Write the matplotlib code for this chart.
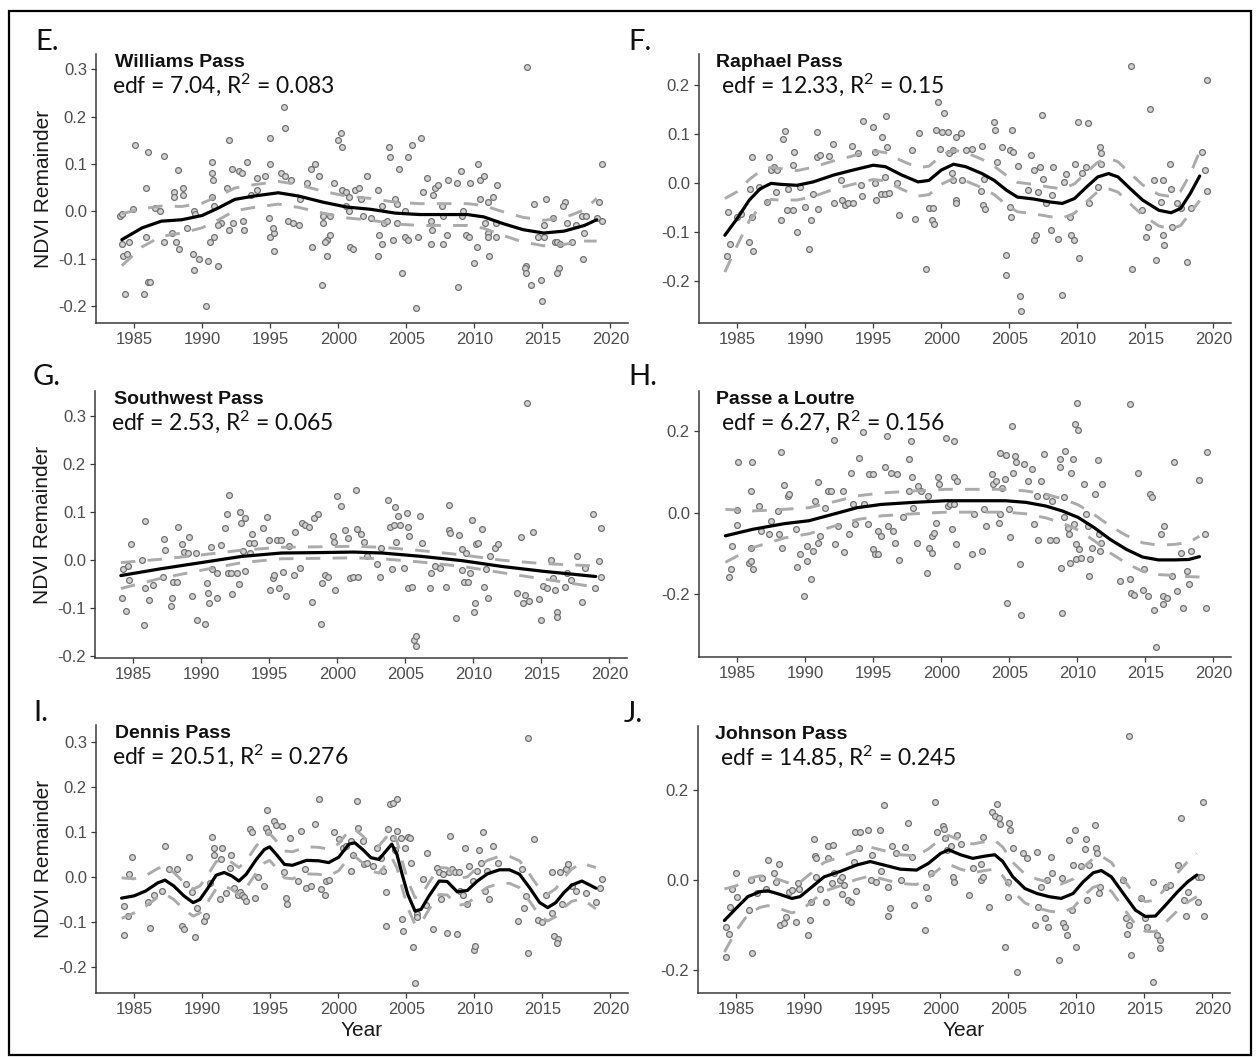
import numpy as np
import matplotlib
matplotlib.use("Agg")
import matplotlib.pyplot as plt
from matplotlib.patches import Rectangle

plt.rcParams['axes.unicode_minus'] = False
plt.rcParams['mathtext.fontset'] = 'custom'
plt.rcParams['mathtext.rm'] = 'Lato'
plt.rcParams['mathtext.it'] = 'Lato:italic'
plt.rcParams['mathtext.bf'] = 'Lato:bold'

# ---------------- data ----------------
E_pts = [(1984.0,-0.010),(1984.1,-0.005),(1984.1,-0.070),(1984.2,-0.095),(1984.3,-0.175),(1984.6,-0.065),(1984.5,-0.090),
(1985.1,0.140),(1984.9,0.005),(1986.0,0.125),(1985.9,0.050),(1985.7,-0.175),(1986.0,-0.150),(1986.2,-0.150),(1986.5,0.007),(1986.9,0.000),(1985.9,-0.055),(1987.2,0.116),(1987.2,-0.065),
(1988.2,0.088),(1987.9,0.040),(1987.9,0.030),(1987.8,-0.045),(1988.1,-0.065),(1988.3,-0.080),(1988.6,0.050),(1988.6,0.035),
(1989.3,-0.090),(1989.4,-0.125),(1989.4,0.000),(1988.9,-0.035),(1989.8,-0.100),(1990.3,-0.200),(1990.4,-0.105),(1990.7,0.105),(1990.7,0.080),(1990.8,0.065),(1989.5,-0.005),
(1990.7,0.030),(1990.6,-0.065),(1990.9,-0.055),(1991.2,-0.115),(1990.9,0.010),(1991.8,0.050),(1992.0,-0.040),(1991.4,-0.025),(1991.2,-0.030),
(1992.0,0.150),(1992.2,0.090),(1992.7,0.085),(1992.3,-0.025),(1993.1,-0.040),(1993.0,-0.020),
(1993.3,0.105),(1992.9,0.080),(1993.6,0.035),(1994.0,0.045),
(1994.6,0.075),(1994.0,0.070),(1995.0,0.155),(1995.0,0.100),(1994.9,-0.015),(1995.0,-0.055),(1995.3,-0.045),
(1996.0,0.220),(1996.1,0.175),(1995.8,0.080),(1996.1,0.075),(1995.3,-0.085),(1995.2,-0.035),
(1996.5,0.065),(1996.3,-0.020),(1996.7,-0.025),(1997.1,-0.030),(1997.2,0.025),
(1998.3,0.100),(1998.0,0.090),(1998.6,0.075),(1998.1,-0.075),(1997.7,0.060),
(1998.9,-0.010),(1998.9,-0.025),(1999.2,-0.060),(1999.0,-0.065),(1998.8,-0.155),(1999.2,-0.095),(1999.4,-0.050),
(1999.7,0.060),(1999.4,-0.010),(2000.3,0.045),
(2000.2,0.165),(2000.0,0.150),(2000.3,0.135),(2000.6,0.040),(2000.8,0.030),(2000.6,0.010),(2000.8,0.000),
(2001.2,0.045),(2001.5,0.050),(2000.9,-0.075),(2001.1,-0.080),
(2002.1,0.075),(2001.7,0.025),(2001.8,-0.010),(2002.4,-0.015),
(2002.9,0.045),(2003.0,-0.050),(2002.9,-0.095),(2003.2,-0.070),(2003.4,-0.025),(2003.2,0.010),
(2003.7,0.135),(2003.8,0.115),(2004.2,0.025),(2004.3,0.015),(2004.3,-0.025),(2004.0,-0.060),(2003.6,-0.020),
(2004.5,0.090),(2004.7,-0.130),(2004.9,-0.055),(2005.1,-0.060),(2005.1,0.115),(2004.9,0.000),
(2005.4,0.140),(2006.1,0.155),(2005.7,-0.205),(2005.9,-0.055),(2006.2,0.040),
(2006.5,0.070),(2006.8,-0.020),(2006.8,-0.070),(2006.9,-0.040),(2007.1,0.050),(2007.0,0.035),
(2007.3,0.055),(2007.7,-0.070),(2007.6,0.010),(2007.7,-0.010),(2008.1,0.065),
(2008.0,-0.050),(2008.7,0.060),(2008.8,-0.160),(2009.0,0.085),(2009.1,-0.010),(2009.2,0.000),
(2009.7,0.060),(2009.4,-0.050),(2009.6,-0.055),(2010.3,0.100),(2010.0,-0.110),(2010.2,-0.075),(2010.4,0.065),(2010.4,0.025),
(2010.7,0.075),(2011.0,0.020),(2010.8,-0.025),(2011.0,-0.045),(2011.0,-0.055),(2011.1,-0.095),(2011.6,-0.025),
(2011.7,0.055),(2011.4,0.030),(2011.6,-0.055),
(2013.8,-0.115),(2013.7,-0.120),(2013.8,-0.130),(2014.2,-0.155),(2013.9,0.305),
(2014.4,0.015),(2014.7,-0.055),(2014.9,-0.145),(2015.0,-0.190),
(2015.3,0.025),(2015.1,-0.030),(2015.1,-0.055),(2015.9,-0.065),
(2016.1,-0.065),(2016.3,-0.070),(2016.2,-0.120),(2016.1,-0.130),(2015.8,-0.015),(2016.7,0.020),(2016.5,0.010),
(2016.8,-0.025),(2017.2,-0.065),(2017.5,-0.030),
(2017.9,-0.010),(2018.2,-0.010),(2018.1,-0.045),(2018.0,-0.100),
(2019.4,0.100),(2019.2,0.020),(2019.0,-0.015),(2019.4,-0.020)]
E_fit_year = [1984.1,1985.6,1987.0,1988.5,1990.0,1991.2,1992.4,1993.8,1995.6,1997.1,1998.9,2000.6,2002.4,2004.2,2006.0,2007.7,2009.5,2010.7,2012.1,2013.6,2015.1,2016.6,2018.1,2019.0]
E_fit = [-0.060,-0.035,-0.021,-0.018,-0.009,0.007,0.025,0.032,0.039,0.032,0.019,0.009,0.004,-0.004,-0.007,-0.007,-0.007,-0.012,-0.026,-0.039,-0.046,-0.042,-0.030,-0.018]
E_se = [0.055,0.040,0.032,0.028,0.026,0.025,0.024,0.024,0.024,0.024,0.023,0.023,0.023,0.023,0.023,0.023,0.023,0.024,0.025,0.026,0.027,0.028,0.033,0.045]

F_pts = [(1984.3,-0.060),(1984.5,-0.125),(1984.26,-0.150),(1985.0,-0.070),(1985.27,-0.063),(1985.86,-0.120),(1986.15,-0.140),(1986.1,0.053),(1985.94,-0.012),(1986.6,-0.008),(1986.1,-0.070),
(1987.33,0.053),(1987.18,-0.040),(1987.48,0.026),(1987.72,0.033),(1987.86,-0.018),(1988.2,-0.075),(1987.92,0.026),
(1988.37,0.090),(1988.5,0.106),(1988.75,-0.012),(1988.66,-0.056),(1989.1,-0.056),(1989.1,0.036),(1989.2,0.063),(1989.4,-0.101),(1989.64,-0.008),
(1990.0,-0.049),(1990.28,-0.134),(1990.43,-0.075),(1990.58,-0.022),(1990.88,0.103),(1990.96,-0.054),(1990.88,0.053),(1991.08,0.056),
(1991.76,0.054),(1992.06,0.079),(1992.15,-0.042),(1992.65,0.005),(1992.7,-0.034),(1992.94,-0.046),(1993.18,-0.041),(1993.53,-0.041),
(1993.47,0.076),(1993.92,0.061),(1994.12,-0.005),(1994.27,0.127),(1994.21,-0.027),(1995.0,0.113),(1995.16,0.063),(1995.24,-0.035),(1995.66,0.094),(1995.6,-0.022),(1995.84,-0.022),(1995.98,0.136),(1996.04,0.073),(1995.16,0.000),(1996.2,-0.020),(1995.84,0.012),(1996.78,0.000),(1996.93,-0.066),
(1997.87,0.067),(1998.1,-0.073),(1998.34,0.101),(1998.85,-0.175),(1999.14,-0.052),(1999.29,-0.076),(1999.44,-0.084),(1999.38,-0.052),
(1999.73,0.165),(2000.18,0.143),(1999.64,0.107),(2000.03,0.104),(2000.47,0.104),(2001.06,0.093),(2001.45,0.101),(1999.9,0.070),(2000.6,0.060),(2000.85,0.067),(2000.83,0.020),(2000.9,0.005),(2001.06,-0.035),(2001.1,-0.042),(2001.5,0.005),(2001.8,0.067),(2002.24,0.070),(2002.98,0.076),(2002.92,-0.016),(2003.07,-0.046),(2003.2,-0.054),(2003.13,0.007),
(2003.87,0.124),(2003.95,0.107),(2004.07,0.043),(2004.46,0.073),(2005.05,0.067),(2005.2,0.107),(2005.28,0.063),(2004.75,-0.148),(2004.8,-0.188),(2005.05,-0.049),(2005.1,-0.069),(2005.64,0.034),(2005.79,-0.231),(2005.87,-0.261),(2006.6,0.056),(2006.37,-0.015),(2007.1,-0.018),(2006.8,-0.117),(2006.97,-0.107),(2007.26,0.033),(2007.4,0.139),(2006.8,0.026),(2007.45,0.007),(2007.7,-0.042),
(2008.24,0.033),(2008.15,-0.025),(2008.1,-0.097),(2008.6,-0.114),(2008.9,-0.228),(2009.03,0.002),(2009.18,0.019),(2009.48,-0.069),(2009.53,-0.107),(2009.77,-0.116),(2009.8,0.039),(2010.07,0.124),(2010.8,0.122),(2010.1,-0.154),(2010.36,0.020),(2010.66,0.033),(2010.9,-0.042),(2011.7,0.073),(2011.78,0.039),(2011.75,0.060),(2011.54,-0.008),
(2014.05,-0.175),(2013.96,0.238),(2014.79,-0.056),(2015.38,0.150),(2015.08,-0.110),(2015.23,-0.090),(2015.67,0.005),(2016.27,0.005),(2015.82,-0.158),(2016.12,-0.039),(2016.3,-0.107),(2016.41,-0.127),(2016.86,-0.012),(2016.8,0.039),(2017.0,-0.090),(2017.3,-0.042),(2017.6,-0.052),(2018.04,-0.161),(2018.33,-0.052),
(2019.16,0.063),(2019.37,0.026),(2019.5,0.210),(2019.5,-0.016)]
F_fit_year = [1984.1,1985.0,1985.9,1986.7,1987.5,1988.2,1989.4,1990.6,1992.1,1993.5,1995.0,1995.9,1997.1,1998.3,1999.1,2000.0,2000.9,2001.8,2003.0,2003.9,2004.8,2005.6,2006.8,2008.0,2008.9,2009.8,2010.7,2011.5,2012.3,2013.0,2013.9,2014.8,2016.0,2016.9,2017.6,2018.3,2019.0]
F_fit = [-0.107,-0.073,-0.035,-0.012,-0.001,-0.003,-0.005,0.002,0.016,0.026,0.036,0.033,0.016,0.002,0.005,0.026,0.038,0.033,0.019,0.005,-0.015,-0.029,-0.033,-0.039,-0.042,-0.032,-0.008,0.012,0.019,0.012,-0.012,-0.035,-0.056,-0.061,-0.052,-0.022,0.014]
F_se = [0.075,0.055,0.042,0.036,0.033,0.032,0.030,0.030,0.029,0.029,0.029,0.029,0.029,0.029,0.029,0.029,0.029,0.029,0.029,0.029,0.030,0.030,0.030,0.030,0.030,0.030,0.030,0.030,0.031,0.031,0.031,0.031,0.032,0.033,0.035,0.040,0.050]

G_pts = [(1984.17,-0.080),(1984.47,-0.106),(1984.23,-0.020),(1984.62,-0.014),(1984.82,0.033),(1984.68,-0.042),(1985.62,0.000),(1985.77,-0.137),(1985.86,-0.059),(1985.9,0.080),(1986.15,-0.083),(1986.45,-0.052),(1987.19,-0.035),(1987.27,0.044),(1987.33,0.021),(1987.78,-0.097),(1987.87,-0.080),(1987.92,-0.047),(1988.22,-0.047),(1988.28,0.068),(1988.57,0.033),(1988.75,0.017),(1989.1,0.047),(1989.05,0.014),(1989.34,-0.076),(1989.64,0.014),(1989.7,-0.125),(1990.29,-0.135),(1990.44,-0.049),(1990.5,-0.070),(1990.58,-0.090),(1990.73,0.026),(1990.82,-0.020),(1991.17,-0.028),(1991.2,-0.080),(1991.47,0.031),(1991.77,0.066),(1991.91,0.095),(1992.06,0.135),(1991.95,-0.028),(1992.21,-0.028),(1992.3,-0.071),(1992.65,-0.028),(1992.8,-0.051),(1992.89,0.100),(1992.95,0.076),(1993.24,0.087),(1993.09,0.019),(1993.2,-0.024),(1993.54,0.035),(1993.6,0.014),(1993.77,0.053),(1993.89,0.035),(1994.57,0.066),(1994.81,0.090),(1995.01,0.042),(1995.05,-0.064),(1995.31,-0.038),(1995.35,-0.031),(1995.55,0.042),(1995.75,-0.059),(1995.9,0.042),(1996.05,-0.026),(1996.26,-0.075),(1996.43,0.028),(1996.79,-0.031),(1996.93,0.057),(1997.23,-0.017),(1997.44,0.076),(1997.67,0.073),(1997.91,0.069),(1998.26,0.087),(1998.56,0.096),(1998.12,-0.089),(1998.8,-0.134),(1998.86,-0.049),(1999.09,-0.031),(1999.3,-0.036),(1999.68,0.049),(1999.74,0.038),(1999.83,-0.064),(1999.98,0.132),(2000.27,0.112),(2000.57,0.063),(2000.78,0.045),(2000.92,-0.038),(2001.16,-0.035),(2001.4,0.146),(2001.45,0.064),(2001.5,-0.035),(2001.75,0.054),(2001.96,0.038),(2002.16,0.007),(2002.93,-0.008),(2003.14,-0.036),(2003.23,0.024),(2003.73,0.125),(2003.88,0.069),(2004.02,-0.019),(2004.17,0.073),(2004.26,0.110),(2004.32,0.037),(2004.47,0.092),(2004.62,0.073),(2004.91,-0.017),(2005.12,0.097),(2005.21,0.069),(2005.25,0.049),(2005.21,-0.059),(2005.5,-0.056),(2005.65,-0.167),(2005.8,-0.179),(2005.8,-0.160),(2006.09,0.092),(2006.24,0.035),(2006.83,-0.059),(2006.89,-0.028),(2007.19,-0.014),(2007.57,-0.017),(2008.01,-0.056),(2008.25,0.115),(2008.25,0.063),(2008.31,0.056),(2008.75,-0.122),(2008.96,0.052),(2009.14,0.022),(2009.2,-0.021),(2009.34,-0.047),(2009.49,0.014),(2009.64,-0.047),(2009.79,-0.028),(2009.93,0.083),(2010.08,-0.108),(2010.14,-0.090),(2010.23,0.033),(2010.38,0.035),(2010.67,0.065),(2010.82,-0.056),(2010.97,-0.019),(2011.12,-0.080),(2011.26,0.007),(2011.62,0.024),(2011.85,0.033),(2013.18,-0.069),(2013.48,0.047),(2013.63,-0.090),(2013.77,-0.073),(2013.92,0.328),(2014.07,-0.087),(2014.36,0.057),(2014.81,-0.082),(2014.96,-0.125),(2015.1,-0.054),(2015.4,-0.059),(2015.69,0.000),(2015.84,-0.038),(2015.99,-0.063),(2016.14,-0.108),(2016.14,-0.120),(2016.73,-0.057),(2016.88,-0.028),(2017.17,-0.042),(2017.61,0.007),(2018.0,-0.088),(2018.2,-0.017),(2018.8,0.096),(2018.94,-0.059),(2019.24,-0.003),(2019.39,0.066),(2019.39,-0.036)]
G_fit_year = [1984.1,1987.0,1990.0,1993.0,1995.9,1998.9,2001.2,2003.3,2006.2,2009.2,2012.1,2015.1,2019.0]
G_fit = [-0.033,-0.019,-0.006,0.007,0.014,0.015,0.016,0.014,0.007,-0.002,-0.014,-0.024,-0.035]
G_se = [0.027,0.020,0.016,0.013,0.012,0.012,0.012,0.012,0.012,0.012,0.013,0.016,0.022]

H_pts = [(1984.38,-0.158),(1984.53,-0.139),(1984.62,-0.082),(1985.03,0.123),(1984.97,-0.031),(1985.0,0.006),(1986.0,0.053),(1986.09,0.123),(1985.86,-0.123),(1986.0,-0.119),(1986.15,-0.139),(1986.02,-0.086),(1986.59,0.016),(1986.74,-0.045),(1987.33,-0.053),(1987.48,-0.020),(1987.98,0.004),(1988.22,0.148),(1988.07,-0.053),(1988.28,-0.086),(1988.45,0.068),(1988.75,0.041),(1988.81,0.045),(1989.34,-0.041),(1989.4,-0.134),(1989.64,-0.102),(1989.93,-0.205),(1990.14,-0.119),(1990.16,-0.082),(1990.43,-0.164),(1990.58,-0.094),(1990.73,0.029),(1990.93,-0.074),(1990.95,0.074),(1991.11,-0.057),(1991.47,0.012),(1991.7,0.053),(1991.91,0.053),(1992.14,0.179),(1992.2,-0.078),(1992.44,-0.033),(1992.79,0.053),(1992.88,-0.096),(1993.24,-0.053),(1993.39,0.098),(1993.53,0.020),(1993.68,-0.029),(1993.98,0.134),(1994.27,0.197),(1994.36,0.020),(1994.65,-0.029),(1994.71,0.094),(1995.0,0.094),(1995.02,-0.090),(1995.16,-0.102),(1995.39,-0.102),(1995.36,-0.045),(1995.54,-0.057),(1995.89,0.111),(1996.04,0.187),(1996.1,-0.033),(1996.34,0.098),(1996.49,-0.045),(1996.63,-0.074),(1996.72,0.094),(1996.93,-0.116),(1997.22,-0.012),(1997.66,0.131),(1997.81,0.176),(1997.83,0.086),(1997.6,0.053),(1997.96,0.012),(1998.2,-0.074),(1998.32,0.066),(1998.55,0.053),(1998.94,-0.149),(1999.05,0.041),(1999.14,-0.086),(1999.29,-0.057),(1999.31,-0.100),(1999.44,-0.049),(1999.59,-0.025),(1999.73,0.086),(1999.82,0.070),(2000.32,0.184),(2000.47,0.016),(2000.62,0.020),(2000.77,-0.041),(2000.91,0.176),(2000.93,0.086),(2000.97,0.020),(2001.06,-0.078),(2001.15,-0.130),(2001.17,0.078),(2002.24,-0.102),(2002.39,-0.004),(2002.98,-0.094),(2003.13,0.008),(2003.28,-0.033),(2003.72,0.094),(2003.81,0.070),(2004.01,0.078),(2004.22,-0.025),(2004.31,-0.004),(2004.46,0.061),(2004.69,0.082),(2004.81,-0.221),(2004.33,0.145),(2004.75,0.142),(2004.99,0.008),(2005.05,-0.061),(2005.2,0.213),(2005.28,0.098),(2005.4,0.139),(2005.49,0.123),(2005.79,-0.125),(2005.87,-0.250),(2006.08,0.119),(2006.38,0.078),(2006.67,0.107),(2006.82,-0.029),(2007.05,0.041),(2007.11,-0.066),(2007.35,0.078),(2007.56,0.143),(2007.7,0.041),(2008.0,-0.066),(2008.15,0.029),(2008.44,-0.066),(2008.74,0.131),(2008.76,0.111),(2008.83,-0.135),(2008.89,-0.246),(2009.03,0.037),(2009.05,-0.012),(2009.12,0.152),(2009.33,-0.037),(2009.42,-0.053),(2009.48,-0.123),(2009.56,0.098),(2009.68,0.131),(2009.77,-0.029),(2009.92,-0.115),(2009.94,-0.078),(2010.01,0.268),(2009.8,0.217),(2010.03,0.202),(2010.13,-0.090),(2010.3,-0.111),(2010.51,0.070),(2010.66,-0.004),(2010.8,-0.033),(2010.89,-0.156),(2010.95,-0.115),(2011.1,-0.086),(2011.31,0.045),(2011.54,0.129),(2011.6,-0.053),(2011.69,-0.094),(2011.84,0.070),(2011.78,-0.074),(2013.17,-0.168),(2013.85,0.266),(2013.91,-0.164),(2013.93,-0.197),(2014.2,-0.201),(2014.5,0.098),(2014.85,-0.189),(2014.94,-0.139),(2015.23,-0.205),(2015.38,0.045),(2015.53,0.037),(2015.62,-0.238),(2015.82,-0.330),(2016.12,-0.053),(2016.27,-0.225),(2016.29,-0.205),(2016.41,-0.033),(2016.56,-0.209),(2017.0,-0.156),(2017.09,0.123),(2017.3,-0.193),(2017.6,-0.098),(2017.74,-0.234),(2018.04,-0.143),(2018.19,-0.176),(2018.33,-0.093),(2018.92,0.080),(2019.37,-0.053),(2019.46,-0.234),(2019.5,0.148)]
H_fit_year = [1984.14,1986.15,1988.5,1990.28,1992.06,1993.83,1995.6,1997.96,2000.32,2002.68,2004.75,2006.23,2007.7,2008.9,2010.07,2011.25,2012.43,2013.6,2014.8,2015.97,2017.15,2018.19,2018.98]
H_fit = [-0.057,-0.041,-0.027,-0.020,-0.004,0.012,0.020,0.025,0.029,0.029,0.029,0.025,0.016,0.004,-0.012,-0.037,-0.066,-0.090,-0.109,-0.116,-0.116,-0.115,-0.108]
H_se = [0.065,0.045,0.035,0.032,0.030,0.029,0.028,0.028,0.028,0.028,0.028,0.028,0.029,0.030,0.031,0.032,0.033,0.034,0.035,0.036,0.038,0.042,0.050]

I_pts = [(1984.23,-0.064),(1984.53,-0.087),(1984.25,-0.129),(1984.62,0.006),(1984.82,0.045),(1986.15,-0.113),(1986.0,-0.055),(1986.45,-0.039),(1987.04,-0.031),(1987.27,0.070),(1987.57,0.017),(1988.16,0.017),(1988.52,-0.109),(1988.66,-0.116),(1988.81,-0.015),(1989.05,0.044),(1989.25,-0.033),(1989.49,-0.133),(1989.64,-0.070),(1990.14,-0.098),(1990.29,-0.087),(1990.58,-0.013),(1990.73,0.089),(1990.88,0.065),(1990.9,0.050),(1991.32,-0.050),(1991.47,0.065),(1991.41,0.039),(1991.77,-0.035),(1992.06,0.021),(1992.12,0.050),(1992.36,-0.025),(1992.65,-0.039),(1992.8,-0.033),(1992.95,-0.039),(1993.09,-0.044),(1993.24,-0.053),(1993.54,0.107),(1993.69,0.099),(1993.89,-0.046),(1994.13,0.000),(1994.57,-0.020),(1994.78,0.150),(1994.72,0.110),(1994.87,0.099),(1995.25,0.124),(1995.46,0.116),(1995.84,0.113),(1996.05,0.010),(1996.2,-0.046),(1996.22,-0.061),(1996.49,0.087),(1997.23,0.102),(1997.08,-0.009),(1997.58,0.017),(1997.67,-0.025),(1997.97,-0.021),(1998.26,0.117),(1998.56,0.173),(1998.71,-0.027),(1999.0,-0.039),(1999.09,-0.009),(1999.3,-0.007),(1999.68,0.099),(2000.04,0.084),(2000.33,0.065),(2000.57,0.069),(2000.92,0.080),(2000.94,0.013),(2001.07,0.050),(2001.37,0.169),(2001.45,0.110),(2001.81,0.080),(2001.87,0.028),(2002.1,0.032),(2002.55,0.024),(2002.84,0.065),(2003.14,0.043),(2003.29,0.013),(2003.52,-0.033),(2003.54,-0.109),(2003.64,0.107),(2003.82,0.163),(2004.02,0.165),(2004.32,0.173),(2004.04,0.087),(2004.17,0.061),(2004.34,0.102),(2004.62,0.087),(2004.7,-0.094),(2004.91,0.065),(2005.12,0.089),(2005.3,0.087),(2004.76,-0.120),(2005.32,0.032),(2005.5,-0.156),(2005.65,-0.235),(2005.8,-0.083),(2005.82,-0.090),(2006.24,-0.005),(2006.48,-0.062),(2006.54,0.054),(2006.98,-0.115),(2007.27,0.019),(2007.42,0.010),(2007.57,-0.050),(2007.72,0.006),(2008.01,-0.124),(2008.16,0.010),(2008.25,0.091),(2008.4,0.017),(2008.6,0.010),(2008.9,0.010),(2008.75,-0.127),(2008.92,-0.031),(2009.2,-0.039),(2009.34,0.065),(2009.49,-0.059),(2009.64,0.024),(2009.93,-0.009),(2009.95,-0.163),(2010.08,-0.153),(2010.23,0.013),(2010.38,0.061),(2010.52,0.032),(2010.61,0.099),(2010.82,-0.031),(2010.97,0.013),(2011.12,-0.050),(2011.41,0.069),(2011.71,0.032),(2013.18,-0.098),(2013.48,0.017),(2013.63,-0.068),(2013.77,-0.042),(2013.92,-0.168),(2013.92,0.310),(2014.36,0.084),(2014.66,-0.096),(2014.96,-0.101),(2015.25,-0.039),(2015.69,0.010),(2015.71,-0.079),(2015.84,-0.131),(2016.14,-0.139),(2016.08,-0.146),(2016.29,0.010),(2016.43,-0.061),(2016.73,0.017),(2016.88,0.028),(2017.17,-0.020),(2017.47,-0.031),(2018.2,-0.035),(2018.94,-0.055),(2019.24,-0.024),(2019.39,-0.005)]
I_fit_year = [1984.08,1985.0,1985.86,1986.74,1987.27,1987.92,1988.66,1989.34,1989.84,1990.44,1991.03,1991.62,1992.2,1992.7,1993.24,1993.98,1994.57,1994.96,1995.46,1996.05,1996.64,1997.67,1998.56,1999.3,2000.04,2000.78,2001.22,2001.81,2002.4,2002.99,2003.52,2003.94,2004.32,2004.7,2005.12,2005.65,2006.09,2006.68,2007.42,2008.01,2008.75,2009.49,2010.23,2010.97,2011.85,2012.59,2013.33,2014.07,2014.81,2015.4,2015.99,2016.58,2017.17,2017.91,2018.5,2018.94]
I_fit = [-0.047,-0.042,-0.031,-0.013,-0.007,-0.020,-0.042,-0.057,-0.050,-0.024,0.004,0.010,0.002,-0.009,0.006,0.039,0.061,0.067,0.050,0.028,0.026,0.037,0.036,0.032,0.044,0.073,0.076,0.061,0.043,0.039,0.058,0.073,0.050,0.006,-0.039,-0.076,-0.072,-0.042,-0.009,-0.010,-0.033,-0.030,-0.009,0.007,0.016,0.016,0.006,-0.024,-0.057,-0.068,-0.057,-0.035,-0.018,-0.009,-0.018,-0.025]
I_se = [0.045,0.038,0.034,0.032,0.031,0.030,0.030,0.030,0.030,0.030,0.030,0.030,0.030,0.030,0.030,0.030,0.030,0.030,0.030,0.030,0.030,0.030,0.030,0.030,0.030,0.030,0.030,0.030,0.030,0.030,0.030,0.030,0.030,0.030,0.030,0.030,0.030,0.030,0.030,0.030,0.030,0.030,0.030,0.030,0.030,0.030,0.030,0.030,0.030,0.030,0.031,0.033,0.036,0.040,0.043,0.046]

J_pts = [(1984.26,-0.104),(1984.47,-0.119),(1984.29,-0.170),(1984.56,-0.059),(1984.68,-0.021),(1984.97,0.016),(1985.03,-0.037),(1985.92,-0.067),(1986.09,0.000),(1986.15,-0.163),(1986.51,-0.030),(1986.89,0.004),(1987.18,-0.019),(1987.33,0.044),(1987.78,0.016),(1988.16,0.036),(1987.92,-0.004),(1988.22,-0.100),(1988.51,-0.096),(1988.66,-0.083),(1988.9,-0.026),(1989.1,-0.022),(1989.4,-0.093),(1989.55,-0.007),(1989.64,-0.019),(1990.28,-0.122),(1990.43,-0.089),(1990.49,-0.048),(1990.73,0.090),(1990.79,0.053),(1990.88,0.007),(1990.9,0.048),(1991.17,-0.019),(1991.61,-0.048),(1991.76,0.076),(1992.12,0.078),(1991.78,0.048),(1992.06,-0.007),(1992.2,0.015),(1992.65,0.000),(1992.79,0.007),(1992.81,-0.032),(1992.94,-0.011),(1993.24,-0.044),(1993.47,-0.048),(1993.68,0.041),(1993.83,-0.024),(1993.77,0.107),(1994.12,0.107),(1994.06,0.070),(1994.71,0.111),(1994.95,0.000),(1994.97,0.056),(1995.3,-0.004),(1995.6,0.111),(1995.62,0.019),(1995.89,0.167),(1996.13,-0.015),(1996.19,-0.081),(1996.28,-0.063),(1996.49,0.076),(1996.78,0.059),(1997.13,0.000),(1997.43,0.074),(1997.67,0.127),(1997.96,0.052),(1998.11,-0.056),(1998.85,-0.111),(1998.99,-0.015),(1999.08,-0.041),(1999.29,0.016),(1999.59,0.174),(1999.73,0.107),(2000.18,0.119),(2000.26,0.113),(2000.32,0.093),(2000.47,0.067),(2000.77,0.076),(2000.91,0.007),(2001.0,-0.004),(2001.27,0.100),(2001.5,0.081),(2002.09,-0.033),(2002.39,0.026),(2002.98,0.000),(2003.13,0.007),(2003.0,0.036),(2003.15,0.096),(2003.57,-0.059),(2003.78,0.152),(2004.01,0.142),(2004.16,0.169),(2004.31,0.137),(2004.4,0.124),(2004.75,-0.148),(2004.99,-0.004),(2005.01,-0.037),(2005.05,0.127),(2005.11,0.110),(2005.34,0.070),(2005.64,-0.204),(2006.08,0.059),(2006.38,0.048),(2006.97,-0.100),(2007.11,0.063),(2007.17,-0.059),(2007.41,-0.015),(2007.7,-0.085),(2007.94,-0.104),(2007.85,0.000),(2008.15,0.052),(2008.24,0.015),(2008.74,-0.178),(2008.94,0.004),(2009.03,-0.096),(2009.18,-0.104),(2009.33,-0.122),(2009.48,0.089),(2009.71,-0.067),(2009.77,0.033),(2009.92,0.111),(2010.01,-0.148),(2010.36,0.030),(2010.66,0.068),(2010.68,0.090),(2010.8,-0.044),(2010.95,0.033),(2011.4,0.122),(2011.42,0.070),(2011.54,0.059),(2011.69,-0.030),(2011.78,-0.015),(2013.46,0.000),(2013.67,-0.085),(2013.76,-0.119),(2013.85,-0.100),(2013.91,0.319),(2014.0,-0.167),(2014.79,-0.041),(2015.08,-0.085),(2015.23,-0.104),(2015.67,-0.004),(2015.97,-0.122),(2016.12,-0.133),(2016.14,-0.152),(2015.67,-0.226),(2016.56,-0.015),(2016.86,-0.011),(2017.45,0.033),(2017.68,0.137),(2017.89,-0.044),(2018.04,-0.081),(2018.19,-0.026),(2018.92,0.007),(2019.16,0.007),(2019.28,0.174),(2019.37,-0.080),(2018.94,-0.048)]
J_fit_year = [1984.14,1985.0,1985.86,1986.74,1987.33,1988.22,1989.1,1989.7,1990.43,1991.47,1992.65,1993.83,1994.86,1995.89,1997.07,1998.26,1999.14,2000.03,2000.62,2001.5,2002.39,2003.28,2004.01,2004.6,2005.34,2006.23,2007.11,2008.0,2008.89,2009.77,2010.51,2011.25,2011.84,2012.58,2013.46,2014.35,2015.08,2015.82,2016.56,2017.45,2018.19,2018.86]
J_fit = [-0.090,-0.063,-0.037,-0.026,-0.024,-0.032,-0.041,-0.037,-0.019,0.007,0.019,0.033,0.041,0.033,0.024,0.022,0.037,0.059,0.067,0.056,0.048,0.053,0.056,0.041,0.007,-0.019,-0.030,-0.037,-0.041,-0.030,-0.004,0.016,0.021,0.007,-0.030,-0.067,-0.081,-0.080,-0.056,-0.026,-0.004,0.011]
J_se = [0.070,0.050,0.040,0.035,0.033,0.032,0.032,0.032,0.032,0.032,0.032,0.032,0.032,0.032,0.032,0.032,0.032,0.032,0.032,0.032,0.032,0.032,0.032,0.032,0.032,0.032,0.032,0.032,0.032,0.032,0.032,0.032,0.032,0.032,0.032,0.032,0.033,0.035,0.038,0.042,0.045,0.048]

site_names = ["Williams Pass", "Raphael Pass", "Southwest Pass", "Passe a Loutre", "Dennis Pass", "Johnson Pass"]
panel_letters = ["E.", "F.", "G.", "H.", "I.", "J."]
stats_text = [r"edf = 7.04, R$^{\mathrm{2}}$ = 0.083", r" edf = 12.33, R$^{\mathrm{2}}$ = 0.15",
              r"edf = 2.53, R$^{\mathrm{2}}$ = 0.065", r" edf = 6.27, R$^{\mathrm{2}}$ = 0.156",
              r"edf = 20.51, R$^{\mathrm{2}}$ = 0.276", r" edf = 14.85, R$^{\mathrm{2}}$ = 0.245"]
x_ticks = [1985, 1990, 1995, 2000, 2005, 2010, 2015, 2020]
y_ticks_list = [[-0.2,-0.1,0.0,0.1,0.2,0.3], [-0.2,-0.1,0.0,0.1,0.2], [-0.2,-0.1,0.0,0.1,0.2,0.3],
                [-0.2,0.0,0.2], [-0.2,-0.1,0.0,0.1,0.2,0.3], [-0.2,0.0,0.2]]
y_limits = [(-0.236,0.332), (-0.286,0.263), (-0.205,0.352), (-0.354,0.298), (-0.258,0.338), (-0.251,0.342)]

all_pts = [E_pts, F_pts, G_pts, H_pts, I_pts, J_pts]
all_fit_year = [E_fit_year, F_fit_year, G_fit_year, H_fit_year, I_fit_year, J_fit_year]
all_fit = [E_fit, F_fit, G_fit, H_fit, I_fit, J_fit]
all_se = [E_se, F_se, G_se, H_se, I_se, J_se]

# ---------------- layout (pixels) ----------------
W, H = 1259, 1057
fig = plt.figure(figsize=(W/100, H/100), dpi=100)
fig.patch.set_facecolor("white")

boxes = [(96, 628, 54, 323), (699, 1231, 54, 323),
         (95, 627, 391, 658), (699, 1231, 391, 657),
         (96, 628, 725, 993), (698, 1230, 726, 993)]
letter_pos = [(35, 50), (628, 50), (33, 385), (628, 385), (33, 721), (624, 722)]

def fx(x):
    return x / W
def fy(y):
    return 1 - y / H

TICK_FONT = "Liberation Sans"
GREY_TXT = "#4d4d4d"

for i in range(6):
    l, r, t, b = boxes[i]
    ax = fig.add_axes([fx(l), fy(b), (r - l) / W, (b - t) / H])
    pts = np.array(all_pts[i])
    yr = np.array(all_fit_year[i])
    fit = np.array(all_fit[i])
    se = np.array(all_se[i])

    ax.plot(pts[:, 0], pts[:, 1], linestyle="none", marker="o", markersize=4.2,
            markerfacecolor="#d2d2d2", markeredgecolor="#727272", markeredgewidth=0.9, zorder=2)
    for band in (fit + se, fit - se):
        ax.plot(yr, band, color="#ababab", lw=2.1, linestyle=(0, (5.0, 4.2)),
                dash_capstyle="butt", zorder=3)
    ax.plot(yr, fit, color="black", lw=2.3, zorder=4, solid_capstyle="round")

    ax.set_xlim(1982.2, 2021.3)
    ax.set_ylim(*y_limits[i])
    ax.set_xticks(x_ticks)
    ax.set_xticklabels([str(v) for v in x_ticks])
    ax.set_yticks(y_ticks_list[i])
    ax.set_yticklabels([f"{v:.1f}" for v in y_ticks_list[i]])
    for s in ("top", "right"):
        ax.spines[s].set_visible(False)
    for s in ("left", "bottom"):
        ax.spines[s].set_color("#3a3a3a")
        ax.spines[s].set_linewidth(1.1)
    ax.tick_params(axis="both", length=3.5, width=0.9, color="#3a3a3a",
                   labelcolor=GREY_TXT, labelsize=12, pad=3)
    for lab in ax.get_xticklabels() + ax.get_yticklabels():
        lab.set_fontfamily(TICK_FONT)
    ax.set_facecolor("none")

    if i % 2 == 0:
        ax.set_ylabel("NDVI Remainder", fontsize=15, fontfamily=TICK_FONT, color="#1a1a1a", labelpad=4)
    if i >= 4:
        ax.set_xlabel("Year", fontsize=15, fontfamily=TICK_FONT, color="#1a1a1a", labelpad=3)

    title_dx = 19 if i % 2 == 0 else 17
    stats_dx = 16 if i % 2 == 0 else 17
    fig.text(fx(l + title_dx), fy(t + 13), site_names[i], fontsize=14, fontweight="bold",
             fontfamily=TICK_FONT, color="#111111", va="baseline", ha="left")
    fig.text(fx(l + stats_dx), fy(t + 39), stats_text[i], fontsize=16.5, fontfamily="Lato",
             color="#111111", va="baseline", ha="left")
    lx, ly = letter_pos[i]
    fig.text(fx(lx), fy(ly), panel_letters[i], fontsize=21, fontfamily="Lato",
             color="#111111", va="baseline", ha="left")

# outer frame
fig.patches.append(Rectangle((fx(9), fy(1055)), (1251 - 9) / W, (1055 - 11) / H,
                             transform=fig.transFigure, fill=False, edgecolor="black", linewidth=1.6))

fig.savefig("out.png", dpi=100, facecolor="white")
